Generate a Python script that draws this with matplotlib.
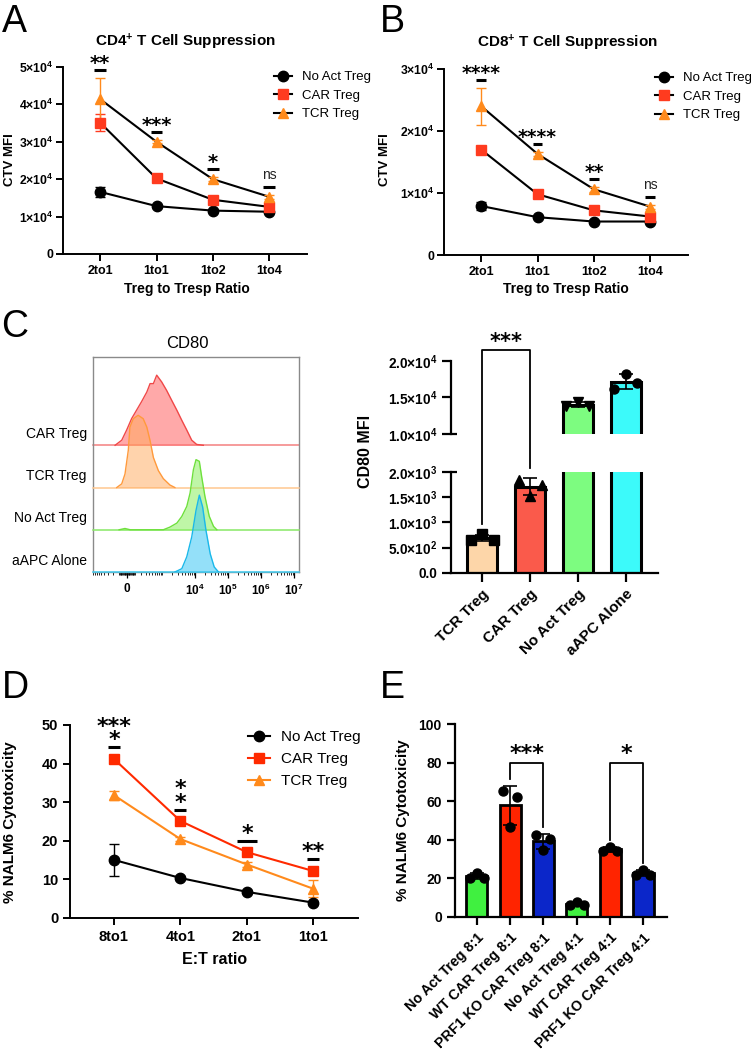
import numpy as np
import matplotlib
matplotlib.use('Agg')
import matplotlib.pyplot as plt
from matplotlib.lines import Line2D
from matplotlib.transforms import blended_transform_factory, offset_copy

plt.rcParams['font.family'] = ['Liberation Sans', 'DejaVu Sans']
plt.rcParams['mathtext.fontset'] = 'custom'
plt.rcParams['mathtext.rm'] = 'Liberation Sans'
plt.rcParams['mathtext.bf'] = 'Liberation Sans:bold'
plt.rcParams['mathtext.it'] = 'Liberation Sans:italic'

# ---------------- data ----------------
ratio_labels = ['2to1', '1to1', '1to2', '1to4']
treg_names = ['No Act Treg', 'CAR Treg', 'TCR Treg']

cd4_noact = [16600, 12800, 11600, 11300]
cd4_noact_err = [1300, 400, 300, 300]
cd4_car = [35100, 20200, 14500, 12600]
cd4_car_err = [2300, 500, 500, 600]
cd4_tcr = [41400, 30000, 20000, 15300]
cd4_tcr_err = [5600, 400, 600, 600]
cd4_sig = ['**', '***', '*', 'ns']

cd8_noact = [7900, 6100, 5400, 5400]
cd8_noact_err = [700, 200, 200, 200]
cd8_car = [17000, 9800, 7200, 6200]
cd8_car_err = [500, 300, 300, 400]
cd8_tcr = [24000, 16300, 10600, 7800]
cd8_tcr_err = [3000, 300, 400, 300]
cd8_sig = ['****', '****', '**', 'ns']

# CD80 histograms: intensity values and normalised counts (in row heights)
hist_rows = ['aAPC Alone', 'No Act Treg', 'TCR Treg', 'CAR Treg']
car_hist_x = [-161, -65, -4, 57, 125, 208, 325, 418, 535, 680, 969, 1373, 1945,
              2813, 3976, 5617, 7934, 11206, 17765]
car_hist_y = [0, 0.12, 0.36, 0.63, 0.83, 1.03, 1.26, 1.46, 1.46, 1.66, 1.50, 1.30,
              1.07, 0.83, 0.59, 0.36, 0.12, 0.02, 0]
tcr_hist_x = [-135, -65, -24, 16, 36, 79, 150, 241, 325, 418, 535, 766, 1089, 1731, 2450]
tcr_hist_y = [0, 0.087, 0.32, 0.88, 1.43, 1.63, 1.71, 1.63, 1.43, 1.11, 0.71, 0.40,
              0.21, 0.06, 0]
noact_hist_x = [-100, -24, 40, 1089, 1731, 2813, 3976, 5617, 7071, 8900, 10700, 13476,
                15834, 19923, 26883, 36279, 45675]
noact_hist_y = [0, 0.03, 0, 0, 0.063, 0.158, 0.316, 0.553, 0.87, 1.42, 1.66, 1.62,
                1.26, 0.79, 0.32, 0.08, 0]
aapc_hist_x = [2450, 3976, 5617, 7934, 10700, 13476, 16965, 21358, 28797, 37976, 51243]
aapc_hist_y = [0, 0.079, 0.36, 0.83, 1.46, 1.82, 1.54, 0.99, 0.43, 0.12, 0]

cd80_groups = ['TCR Treg', 'CAR Treg', 'No Act Treg', 'aAPC Alone']
cd80_rep1 = [650, 1850, 13800, 16200]
cd80_rep2 = [760, 1520, 14400, 18200]
cd80_rep3 = [650, 1750, 13800, 17000]

et_labels = ['8to1', '4to1', '2to1', '1to1']
nalm_noact = [15.0, 10.3, 6.7, 3.9]
nalm_noact_err = [4.2, 0.4, 0.4, 0.5]
nalm_car = [41.2, 25.1, 17.0, 12.1]
nalm_car_err = [0.6, 0.5, 0.5, 0.6]
nalm_tcr = [31.8, 20.4, 13.8, 7.5]
nalm_tcr_err = [1.2, 0.5, 0.6, 2.2]
nalm_sig = ['***\n*', '*\n*', '*', '**']

e_labels = ['No Act Treg 8:1', 'WT CAR Treg 8:1', 'PRF1 KO CAR Treg 8:1',
            'No Act Treg 4:1', 'WT CAR Treg 4:1', 'PRF1 KO CAR Treg 4:1']
e_rep1 = [20.3, 65.5, 42.5, 6.1, 34.3, 21.7]
e_rep2 = [22.9, 46.5, 34.7, 7.8, 36.4, 24.3]
e_rep3 = [20.3, 62.1, 40.2, 6.1, 34.3, 21.7]
e_comparisons = [(1, 2, '***'), (4, 5, '*')]

# ---------------- figure ----------------
W, H = 751, 1049
fig = plt.figure(figsize=(W / 100, H / 100), dpi=100)
fig.patch.set_facecolor('white')


def rect(l, t, r, b):
    return [l / W, 1 - b / H, (r - l) / W, (b - t) / H]


def ftext(x, y, s, **kw):
    kw.setdefault('ha', 'center')
    kw.setdefault('va', 'center')
    return fig.text(x / W, 1 - y / H, s, **kw)


def prism(ax, lw=1.4, ticklen=5):
    for s in ['top', 'right']:
        ax.spines[s].set_visible(False)
    for s in ['left', 'bottom']:
        ax.spines[s].set_linewidth(lw)
    ax.tick_params(direction='out', length=ticklen, width=lw, colors='black')


def sci(v, dec=False):
    if v == 0:
        return '0.0' if dec else '0'
    e = int(np.floor(np.log10(v)))
    m = v / 10 ** e
    ms = f'{m:.1f}' if dec else f'{m:.0f}'
    return r'$\mathbf{' + ms + r'{\times}10^{' + str(e) + r'}}$'


STAR = dict(family='DejaVu Sans', weight='bold')

C_BLACK = 'black'
C_CAR = '#ff3b1f'
C_TCR = '#ff8a1c'


def line_panel(ax, cats, means, errs, styles, sig, ymax, yticks, ytl, colored,
               dash_hw, dash_off, star_size, ns_size, ytick_size, xtick_size):
    x = np.arange(len(cats))
    for m, e, st in zip(means, errs, styles):
        lc = st['color'] if colored else 'black'
        ax.errorbar(x, m, yerr=e, fmt='none', ecolor=st['color'], elinewidth=1.0,
                    capsize=3.5, capthick=1.0, zorder=3)
        ax.plot(x, m, color=lc, lw=1.5, zorder=2)
        ax.plot(x, m, ls='none', marker=st['marker'], ms=st['ms'], color=st['color'],
                mec=st['color'], zorder=4)
    ax.set_xlim(-0.66, len(cats) - 1 + 0.67)
    ax.set_ylim(0, ymax)
    ax.set_xticks(x)
    ax.set_xticklabels(cats, fontsize=xtick_size, fontweight='bold')
    ax.set_yticks(yticks)
    ax.set_yticklabels(ytl, fontsize=ytick_size, fontweight='bold')
    tops = np.max(np.array(means) + np.array(errs), axis=0)
    for i, s in enumerate(sig):
        hw = dash_hw[i] if hasattr(dash_hw, '__len__') else dash_hw
        tr = offset_copy(ax.transData, fig=fig, x=0, y=dash_off, units='dots')
        ax.plot([i - hw, i + hw], [tops[i], tops[i]], color='black', lw=2.2,
                transform=tr, clip_on=False, solid_capstyle='butt', zorder=5)
        if s == 'ns':
            trt = offset_copy(ax.transData, fig=fig, x=0, y=dash_off + 8, units='dots')
            ax.text(i, tops[i], 'ns', ha='center', va='baseline', fontsize=ns_size,
                    color='#222222', transform=trt)
        else:
            trt = offset_copy(ax.transData, fig=fig, x=0, y=dash_off + 1, units='dots')
            ax.text(i, tops[i], s, ha='center', va='baseline', multialignment='center',
                    fontsize=star_size, transform=trt, linespacing=0.6, **STAR)


def legend_handles(styles, colored):
    hs = []
    for st in styles:
        hs.append(Line2D([], [], color=st['color'] if colored else 'black', lw=1.5,
                         marker=st['marker'], ms=st['ms'], mfc=st['color'],
                         mec=st['color']))
    return hs


styles_ab = [dict(marker='o', color=C_BLACK, ms=7.5),
             dict(marker='s', color=C_CAR, ms=6.5),
             dict(marker='^', color=C_TCR, ms=7.5)]

# ---------------- Panel A ----------------
axA = fig.add_axes(rect(63, 67, 307, 254))
prism(axA)
ytA = [0, 10000, 20000, 30000, 40000, 50000]
line_panel(axA, ratio_labels, [cd4_noact, cd4_car, cd4_tcr],
           [cd4_noact_err, cd4_car_err, cd4_tcr_err], styles_ab, cd4_sig, 50000,
           ytA, [sci(v) for v in ytA], False, 0.105, 8, 14, 10, 8.8, 9)
axA.tick_params(axis='x', pad=3)
axA.tick_params(axis='y', pad=2)
axA.legend(legend_handles(styles_ab, False), treg_names,
           loc='upper left', bbox_to_anchor=(274 / W, 1 - 71 / H),
           bbox_transform=fig.transFigure, frameon=False, fontsize=9.5,
           borderpad=0, borderaxespad=0, handlelength=1.36, handletextpad=0.76,
           labelspacing=0.48, numpoints=1)
ftext(185, 42, r'CD4$^{\mathbf{+}}$ T Cell Suppression', fontsize=11, fontweight='bold')
ftext(10, 160, 'CTV MFI', rotation=90, fontsize=9.5, fontweight='bold')
ftext(187, 289, 'Treg to Tresp Ratio', fontsize=10, fontweight='bold')

# ---------------- Panel B ----------------
axB = fig.add_axes(rect(444, 69, 688, 255))
prism(axB)
ytB = [0, 10000, 20000, 30000]
line_panel(axB, ratio_labels, [cd8_noact, cd8_car, cd8_tcr],
           [cd8_noact_err, cd8_car_err, cd8_tcr_err], styles_ab, cd8_sig, 30000,
           ytB, [sci(v) for v in ytB], False, 0.085, 8, 13.5, 10, 8.8, 9)
axB.tick_params(axis='x', pad=3)
axB.tick_params(axis='y', pad=2)
axB.legend(legend_handles(styles_ab, False), treg_names,
           loc='upper left', bbox_to_anchor=(655 / W, 1 - 72 / H),
           bbox_transform=fig.transFigure, frameon=False, fontsize=9.5,
           borderpad=0, borderaxespad=0, handlelength=1.36, handletextpad=0.76,
           labelspacing=0.48, numpoints=1)
ftext(567, 43, r'CD8$^{\mathbf{+}}$ T Cell Suppression', fontsize=11, fontweight='bold')
ftext(385, 160, 'CTV MFI', rotation=90, fontsize=9.5, fontweight='bold')
ftext(566, 289, 'Treg to Tresp Ratio', fontsize=10, fontweight='bold')

# ---------------- Panel C (histograms) ----------------
axH = fig.add_axes(rect(93, 357, 299, 572))
c_cof = 174.0
fwd = lambda v: np.arcsinh(np.asarray(v, float) / c_cof) / np.log(10)
inv = lambda u: c_cof * np.sinh(np.asarray(u, float) * np.log(10))
axH.set_xscale('function', functions=(fwd, inv))
axH.set_xlim(-920, 1.4e7)
axH.set_ylim(0, 5.09)
for s in axH.spines.values():
    s.set_color('#8a8a8a')
    s.set_linewidth(1.0)
axH.set_yticks([])
hist_x = [aapc_hist_x, noact_hist_x, tcr_hist_x, car_hist_x]
hist_y = [aapc_hist_y, noact_hist_y, tcr_hist_y, car_hist_y]
edge_c = ['#1ab8ea', '#6ee03c', '#ff9a3c', '#f04848']
fill_c = ['#3cc8f5', '#8cf060', '#ffa95a', '#ff7070']
fill_a = [0.55, 0.55, 0.5, 0.6]
base_c = ['#40ccf0', '#88e866', '#ffc890', '#f48080']
for row in [3, 2, 1, 0]:
    xs = np.array(hist_x[row], float)
    ys = np.array(hist_y[row], float)
    axH.axhline(row, color=base_c[row], lw=1.1, zorder=1 + (3 - row) * 3, clip_on=False)
    axH.fill_between(xs, row, row + ys, color=fill_c[row], alpha=fill_a[row], lw=0,
                     zorder=2 + (3 - row) * 3)
    axH.plot(xs, row + ys, color=edge_c[row], lw=1.0, zorder=3 + (3 - row) * 3)
trH = blended_transform_factory(axH.transAxes, axH.transData)
for row, name in enumerate(hist_rows):
    axH.text(-0.03, row + 0.27, name, transform=trH, ha='right', va='center', fontsize=10)
major = [0, 1e4, 1e5, 1e6, 1e7]
axH.set_xticks(major)
axH.set_xticklabels(['0', r'$\mathbf{10^4}$', r'$\mathbf{10^5}$', r'$\mathbf{10^6}$',
                     r'$\mathbf{10^7}$'], fontsize=8.5, fontweight='bold')
minors = []
for d in range(1, 7):
    for m in range(1, 10):
        for sgn in (-1, 1):
            v = sgn * m * 10 ** d
            if -920 < v < 1.4e7 and v not in major:
                minors.append(v)
axH.set_xticks(sorted(minors), minor=True)
axH.tick_params(axis='x', which='major', length=4, width=0.9, pad=4, colors='black')
axH.tick_params(axis='x', which='minor', length=2, width=0.6, colors='black')
ftext(187, 343, 'CD80', fontsize=12)

# ---------------- Panel C (bars, broken axis) ----------------
cd80_pts = np.array([cd80_rep1, cd80_rep2, cd80_rep3], float)
cd80_mean = cd80_pts.mean(axis=0)
cd80_sd = cd80_pts.std(axis=0, ddof=1)
cd80_colors = ['#fdd6a9', '#fa5a4b', '#7dfc80', '#3cfafa']
cd80_markers = ['s', '^', 'v', 'o']
axL = fig.add_axes(rect(451, 472, 658, 572.7))
axU = fig.add_axes(rect(451, 360.7, 658, 434))
xb = np.arange(len(cd80_groups))
for ax in (axL, axU):
    prism(ax, lw=1.6, ticklen=6.5)
    ax.bar(xb, cd80_mean, width=0.63, color=cd80_colors, edgecolor='black', lw=2.2, zorder=2)
    ax.errorbar(xb, cd80_mean, yerr=cd80_sd, fmt='none', ecolor='black', elinewidth=1.2,
                capsize=5, capthick=1.2, zorder=4)
    for j, off in enumerate([-0.24, 0, 0.24]):
        for i in range(len(xb)):
            ax.plot(xb[i] + off, cd80_pts[j, i], marker=cd80_markers[i], ms=6.5,
                    color='black', ls='none', zorder=5)
    ax.set_xlim(-0.65, 3.67)
axL.set_ylim(0, 2000)
axU.set_ylim(10000, 20000)
axU.spines['bottom'].set_visible(False)
axU.set_xticks([])
ytL = [0, 500, 1000, 1500, 2000]
axL.set_yticks(ytL)
axL.set_yticklabels(['0.0'] + [sci(v, True) for v in ytL[1:]], fontsize=9.8, fontweight='bold')
ytU = [10000, 15000, 20000]
axU.set_yticks(ytU)
axU.set_yticklabels([sci(v, True) for v in ytU], fontsize=9.8, fontweight='bold')
axL.set_xticks(xb)
axL.set_xticklabels(cd80_groups, rotation=45, ha='right', rotation_mode='anchor',
                    fontsize=11, fontweight='bold')
axL.tick_params(axis='x', pad=4)
# axis-break ticks
for ax, yv in ((axL, 2000), (axU, 10000)):
    trb = blended_transform_factory(ax.transAxes, ax.transData)
    ax.plot([0, 6 / 207], [yv, yv], color='black', lw=1.6, transform=trb, clip_on=False,
            solid_capstyle='butt')
# significance bracket TCR vs CAR
inv_fig = fig.transFigure.inverted()
top_l = max(cd80_pts[:, 0].max(), cd80_mean[0] + cd80_sd[0])
top_r = max(cd80_pts[:, 1].max(), cd80_mean[1] + cd80_sd[1])
pl = axL.transData.transform((0, top_l)) + np.array([0, 10])
pr = axL.transData.transform((1, top_r)) + np.array([0, 10])
ytop = axU.transAxes.transform((0, 1))[1] + 11
pts = np.array([pl, [pl[0], ytop], [pr[0], ytop], pr])
ptsf = inv_fig.transform(pts)
fig.add_artist(Line2D(ptsf[:, 0], ptsf[:, 1], color='black', lw=1.3, transform=fig.transFigure))
mid = inv_fig.transform(((pl[0] + pr[0]) / 2, ytop + 2))
fig.text(mid[0], mid[1], '***', ha='center', va='baseline', fontsize=15, **STAR)
ftext(365, 451, 'CD80 MFI', rotation=90, fontsize=11.5, fontweight='bold')

# ---------------- Panel D ----------------
styles_d = [dict(marker='o', color=C_BLACK, ms=7.5),
            dict(marker='s', color='#ff2a00', ms=7),
            dict(marker='^', color=C_TCR, ms=7.5)]
axD = fig.add_axes(rect(70, 725, 358, 917.7))
prism(axD)
ytD = [0, 10, 20, 30, 40, 50]
line_panel(axD, et_labels, [nalm_noact, nalm_car, nalm_tcr],
           [nalm_noact_err, nalm_car_err, nalm_tcr_err], styles_d, nalm_sig, 50,
           ytD, [str(v) for v in ytD], True, [0.09, 0.09, 0.15, 0.09], 9.5, 16, 10,
           10.5, 10.5)
axD.tick_params(axis='x', pad=4)
axD.legend(legend_handles(styles_d, True), treg_names,
           loc='upper left', bbox_to_anchor=(248 / W, 1 - 730 / H),
           bbox_transform=fig.transFigure, frameon=False, fontsize=11,
           borderpad=0, borderaxespad=0, handlelength=1.44, handletextpad=0.72,
           labelspacing=0.52, numpoints=1)
ftext(10, 822, '% NALM6 Cytotoxicity', rotation=90, fontsize=11, fontweight='bold')
ftext(215, 959, 'E:T ratio', fontsize=11.5, fontweight='bold')

# ---------------- Panel E ----------------
e_pts = np.array([e_rep1, e_rep2, e_rep3], float)
e_mean = e_pts.mean(axis=0)
e_sd = e_pts.std(axis=0, ddof=1)
e_colors = ['#40f040', '#ff2400', '#0b26c9'] * 2
axE = fig.add_axes(rect(455, 724.3, 666.7, 916.7))
prism(axE, lw=1.6, ticklen=6)
xe = np.arange(len(e_labels))
axE.bar(xe, e_mean, width=0.63, color=e_colors, edgecolor='black', lw=2.0, zorder=2)
axE.errorbar(xe, e_mean, yerr=e_sd, fmt='none', ecolor='black', elinewidth=1.2,
             capsize=5, capthick=1.2, zorder=4)
for j, off in enumerate([-0.21, 0, 0.21]):
    axE.plot(xe + off, e_pts[j], 'o', ms=6.5, color='black', zorder=5)
axE.set_xlim(-0.65, 5.7)
axE.set_ylim(0, 100)
axE.set_yticks([0, 20, 40, 60, 80, 100])
axE.set_yticklabels([str(v) for v in [0, 20, 40, 60, 80, 100]], fontsize=10, fontweight='bold')
axE.set_xticks(xe)
axE.set_xticklabels(e_labels, rotation=45, ha='right', rotation_mode='anchor',
                    fontsize=10.3, fontweight='bold')
axE.tick_params(axis='x', pad=4)
bracket_y = 80
for a, b, s in e_comparisons:
    ya = max(e_pts[:, a].max(), e_mean[a] + e_sd[a]) + 3.5
    yb = max(e_pts[:, b].max(), e_mean[b] + e_sd[b]) + 3.5
    axE.plot([a, a, b, b], [ya, bracket_y, bracket_y, yb], color='black', lw=1.3,
             clip_on=False, zorder=6)
    trt = offset_copy(axE.transData, fig=fig, x=0, y=3, units='dots')
    axE.text((a + b) / 2, bracket_y, s, ha='center', va='baseline', fontsize=16,
             transform=trt, **STAR)
ftext(403, 820, '% NALM6 Cytotoxicity', rotation=90, fontsize=11, fontweight='bold')

# ---------------- panel letters ----------------
for lbl, (px, py) in zip('ABCDE', [(14, 21.5), (392, 21.5), (15, 327), (15, 688), (392, 688)]):
    ftext(px, py, lbl, fontsize=27)

fig.savefig('out.png', dpi=100, facecolor='white')
